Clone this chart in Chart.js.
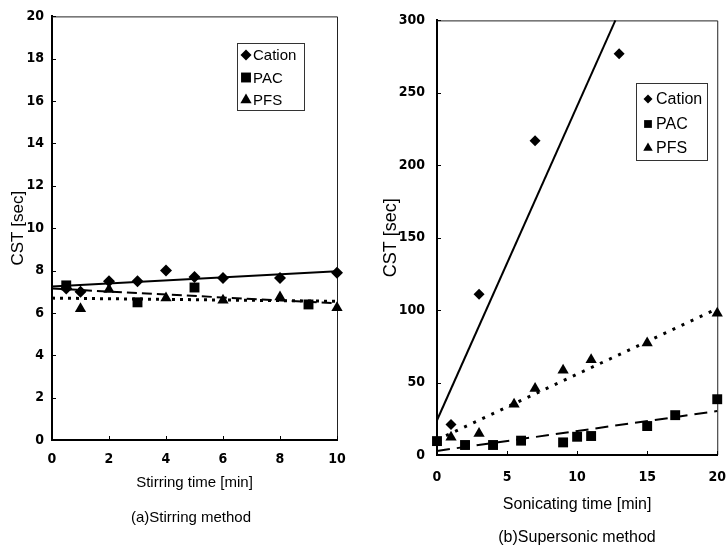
<!DOCTYPE html>
<html><head><meta charset="utf-8">
<script src="https://cdn.jsdelivr.net/npm/chart.js@4.4.1/dist/chart.umd.min.js"></script>
<style>
html,body{margin:0;padding:0;background:#fff;overflow:hidden;width:728px;height:545px;position:relative;}
#ca{position:absolute;left:0;top:0;}
#cb{position:absolute;left:364px;top:0;}
</style></head><body>
<canvas id="ca" width="364" height="545"></canvas>
<canvas id="cb" width="376" height="545"></canvas>
<script>
// ---------- (a) Stirring method ----------
const stirCationX = [0.5, 1, 2, 3, 4, 5, 6, 8, 10];
const stirCationY = [7.15, 7.0, 7.5, 7.5, 8.0, 7.7, 7.65, 7.65, 7.9];
const stirPacX = [0.5, 3, 5, 9];
const stirPacY = [7.3, 6.5, 7.2, 6.4];
const stirPfsX = [1, 2, 4, 6, 8, 10];
const stirPfsY = [6.2, 7.1, 6.7, 6.6, 6.75, 6.25];
const stirFitX = [0, 10];
const stirCationFit = [7.25, 7.97];
const stirPacFit = [7.15, 6.45];
const stirPfsFit = [6.7, 6.55];

// ---------- (b) Supersonic method ----------
const sonCationX = [1, 3, 7, 13];
const sonCationY = [21, 111, 217, 277];
const sonPacX = [0, 2, 4, 6, 9, 10, 11, 15, 17, 20];
const sonPacY = [9.6, 6.9, 6.9, 9.9, 8.7, 12.6, 13.1, 20, 27.5, 38.5];
const sonPfsX = [1, 3, 5.5, 7, 9, 11, 15, 20];
const sonPfsY = [12.2, 14.9, 35.1, 45.9, 58.5, 65.8, 77.3, 97.9];
const sonCationFitX = [0, 12.73];
const sonCationFit = [24, 300];
const sonFitX = [0, 20];
const sonPacFit = [2.8, 30.3];
const sonPfsFit = [10.5, 101];

const seriesNames = ['Cation', 'PAC', 'PFS'];
const seriesStyles = ['rectRot', 'rect', 'triangle'];

const pts = (xs, ys) => xs.map((x, i) => ({x: x, y: ys[i]}));

const NARROW = "'DejaVu Sans Condensed', 'Liberation Sans Narrow', 'Liberation Sans', Arial, sans-serif";
const SANS = "'Liberation Sans', Arial, sans-serif";

function drawMarker(ctx, style, x, y, r) {
  ctx.beginPath();
  if (style === 'rectRot') {
    ctx.moveTo(x, y - r); ctx.lineTo(x + r, y); ctx.lineTo(x, y + r); ctx.lineTo(x - r, y);
  } else if (style === 'rect') {
    const h = r * Math.SQRT1_2;
    ctx.rect(x - h, y - h, 2 * h, 2 * h);
  } else {
    ctx.moveTo(x, y - r);
    ctx.lineTo(x + r * 0.866, y + r * 0.5);
    ctx.lineTo(x - r * 0.866, y + r * 0.5);
  }
  ctx.closePath();
  ctx.fill();
}

const decorPlugin = {
  id: 'decor',
  beforeDatasetsDraw(chart, args, o) {
    const ctx = chart.ctx, a = chart.chartArea;
    ctx.save();
    ctx.strokeStyle = '#222';
    ctx.lineWidth = 1;
    ctx.beginPath();
    ctx.moveTo(a.left, a.top + 0.5); ctx.lineTo(a.right + 0.5, a.top + 0.5); ctx.lineTo(a.right + 0.5, a.bottom);
    ctx.stroke();
    // inward tick marks
    ctx.strokeStyle = '#000';
    ctx.lineWidth = 1;
    const xs = chart.scales.x, ys = chart.scales.y;
    ctx.beginPath();
    xs.ticks.forEach(t => { const p = Math.round(xs.getPixelForValue(t.value)) + 0.5; ctx.moveTo(p, a.bottom); ctx.lineTo(p, a.bottom - 4); });
    ys.ticks.forEach(t => { const p = Math.round(ys.getPixelForValue(t.value)) + 0.5; ctx.moveTo(a.left, p); ctx.lineTo(a.left + 4, p); });
    ctx.stroke();
    ctx.restore();
  },
  afterDraw(chart, args, o) {
    const ctx = chart.ctx;
    ctx.save();
    // legend box
    const L = o.legend;
    ctx.strokeStyle = '#333';
    ctx.lineWidth = 1;
    ctx.strokeRect(L.x + 0.5, L.y + 0.5, L.w, L.h);
    ctx.fillStyle = '#000';
    ctx.font = L.fontSize + 'px ' + SANS;
    ctx.textBaseline = 'middle';
    ctx.textAlign = 'left';
    seriesNames.forEach((name, i) => {
      drawMarker(ctx, seriesStyles[i], L.mx, L.rows[i], L.mr[i]);
      ctx.fillText(name, L.tx, L.rows[i] + 1);
    });
    // caption
    const C = o.caption;
    ctx.font = C.fontSize + 'px ' + SANS;
    ctx.textAlign = 'center';
    ctx.fillText(C.text, C.x, C.y);
    ctx.restore();
  }
};

function makeDatasets(cx, cy, px, py, fx, fy, fitCX, fitC, fitX, fitP, fitF, rads, dashP, dotF, lw) {
  return [
    {label: seriesNames[0], data: pts(cx, cy), pointStyle: 'rectRot', pointRadius: rads[0], backgroundColor: '#000', borderColor: '#000', pointBorderWidth: 0, clip: false},
    {label: seriesNames[1], data: pts(px, py), pointStyle: 'rect', pointRadius: rads[1], backgroundColor: '#000', borderColor: '#000', pointBorderWidth: 0, clip: false},
    {label: seriesNames[2], data: pts(fx, fy), pointStyle: 'triangle', pointRadius: rads[2], backgroundColor: '#000', borderColor: '#000', pointBorderWidth: 0, clip: false},
    {label: 'fitCation', data: pts(fitCX, fitC), showLine: true, pointRadius: 0, borderColor: '#000', borderWidth: lw, clip: false},
    {label: 'fitPAC', data: pts(fitX, fitP), showLine: true, pointRadius: 0, borderColor: '#000', borderWidth: lw, borderDash: dashP, clip: false},
    {label: 'fitPFS', data: pts(fitX, fitF), showLine: true, pointRadius: 0, borderColor: '#000', borderWidth: 3, borderDash: dotF, clip: false}
  ];
}

function makeOptions(cfg) {
  return {
    responsive: false,
    animation: false,
    events: [],
    layout: {padding: cfg.pad},
    plugins: {
      legend: {display: false},
      tooltip: {enabled: false},
      decor: {legend: cfg.legend, caption: cfg.caption}
    },
    scales: {
      x: {
        type: 'linear', min: cfg.xmin, max: cfg.xmax,
        afterFit: s => { s.height = cfg.xh; },
        ticks: {stepSize: cfg.xstep, padding: cfg.xtp, color: '#000', font: {family: NARROW, size: 14, weight: 'bold'}},
        grid: {display: false, drawTicks: false},
        border: {display: true, color: '#000', width: 2},
        title: {display: true, text: cfg.xtitle, color: '#000', font: {family: SANS, size: cfg.xtf}, padding: {top: 0, bottom: cfg.xtpb}}
      },
      y: {
        type: 'linear', min: cfg.ymin, max: cfg.ymax,
        afterFit: s => { s.width = cfg.yw; },
        ticks: {stepSize: cfg.ystep, padding: cfg.ytp, color: '#000', font: {family: NARROW, size: 14, weight: 'bold'}},
        grid: {display: false, drawTicks: false},
        border: {display: true, color: '#000', width: 2},
        title: {display: true, text: 'CST [sec]', color: '#000', font: {family: SANS, size: cfg.ytf}, padding: {top: cfg.ytpt, bottom: 0}}
      }
    }
  };
}

new Chart(document.getElementById('ca'), {
  type: 'scatter',
  data: {datasets: makeDatasets(stirCationX, stirCationY, stirPacX, stirPacY, stirPfsX, stirPfsY,
    stirFitX, stirCationFit, stirFitX, stirPacFit, stirPfsFit, [6, 7, 6.5], [10, 5], [3, 5], 2)},
  options: makeOptions({
    pad: {left: 0, top: 16, right: 27, bottom: 0},
    xmin: 0, xmax: 10, xstep: 2, xh: 105, xtp: 11, xtitle: 'Stirring time [min]', xtf: 15, xtpb: 53,
    ymin: 0, ymax: 20, ystep: 2, yw: 52, ytp: 8, ytf: 17, ytpt: 8,
    legend: {x: 237, y: 43, w: 67, h: 67, rows: [55, 77.5, 100], mx: 246, tx: 253, mr: [5.5, 7, 6.5], fontSize: 15},
    caption: {text: '(a)Stirring method', x: 191, y: 518, fontSize: 15}
  }),
  plugins: [decorPlugin]
});

new Chart(document.getElementById('cb'), {
  type: 'scatter',
  data: {datasets: makeDatasets(sonCationX, sonCationY, sonPacX, sonPacY, sonPfsX, sonPfsY,
    sonCationFitX, sonCationFit, sonFitX, sonPacFit, sonPfsFit, [5.5, 7, 6.5], [13, 7], [3, 7], 2)},
  options: makeOptions({
    pad: {left: 0, top: 19, right: 18, bottom: 0},
    xmin: 0, xmax: 20, xstep: 5, xh: 90, xtp: 14, xtitle: 'Sonicating time [min]', xtf: 16, xtpb: 31,
    ymin: 0, ymax: 300, ystep: 50, yw: 73, ytp: 12, ytf: 18, ytpt: 16,
    legend: {x: 272, y: 83, w: 71, h: 77, rows: [99, 124, 148], mx: 284, tx: 292, mr: [4.5, 5.5, 5.5], fontSize: 16},
    caption: {text: '(b)Supersonic method', x: 213, y: 538, fontSize: 16}
  }),
  plugins: [decorPlugin]
});
</script>
</body></html>
